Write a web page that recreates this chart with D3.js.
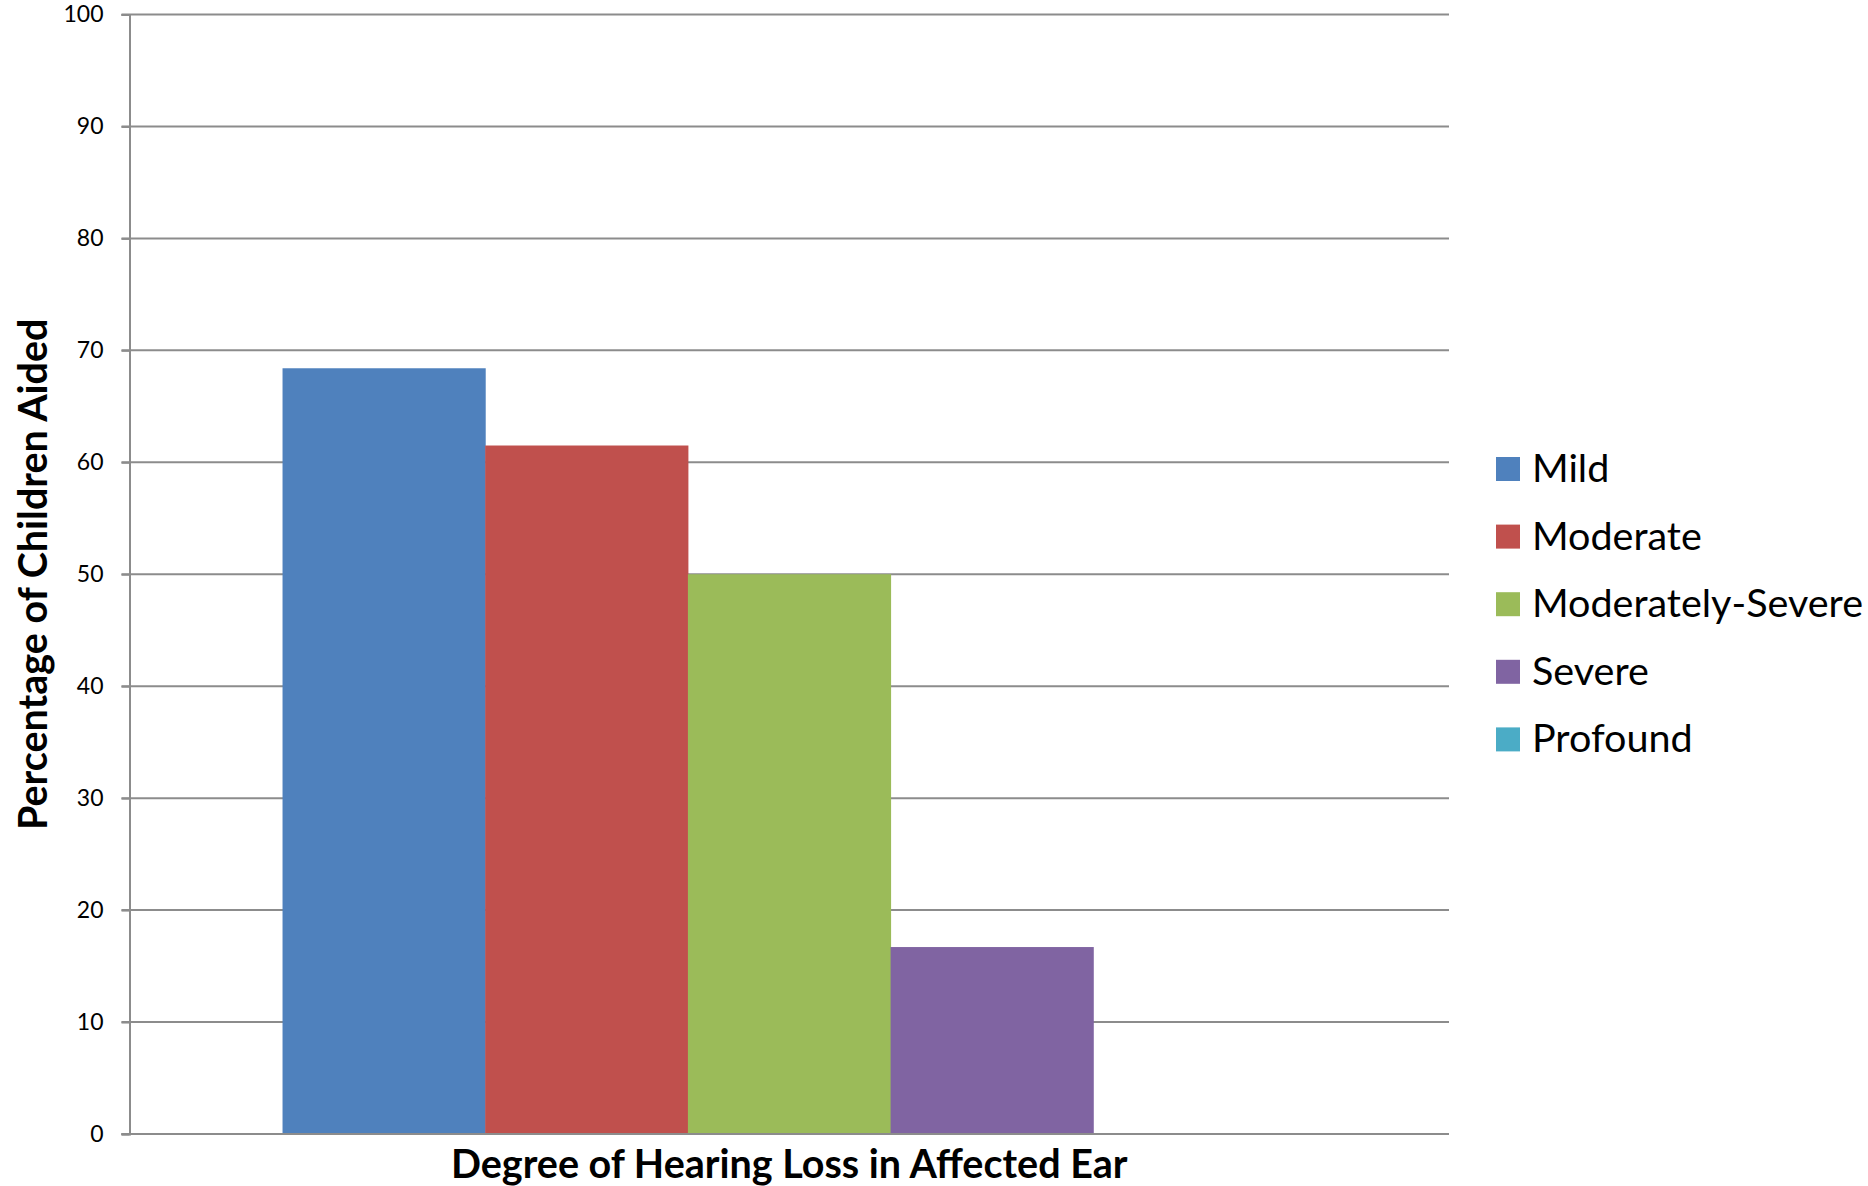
<!DOCTYPE html>
<html>
<head>
<meta charset="utf-8">
<script src="https://cdn.jsdelivr.net/npm/d3@7"></script>
<style>
  body { margin: 0; background: #fff; }
  text { font-family: Lato, "Open Sans", sans-serif; fill: #000; }
</style>
</head>
<body>
<div id="chart"></div>
<script>
// data
var categories = ["Degree of Hearing Loss in Affected Ear"];
var seriesNames = ["Mild", "Moderate", "Moderately-Severe", "Severe", "Profound"];
var seriesValues = [68.4, 61.5, 50.0, 16.7, 0];
var seriesColours = ["#4F81BD", "#C0504D", "#9BBB59", "#8064A2", "#4BACC6"];
var yTicks = [0, 10, 20, 30, 40, 50, 60, 70, 80, 90, 100];

// set the dimensions and margins of the graph
var totalWidth = 1868,
    totalHeight = 1186;
var margin = {top: 14.5, right: 419, bottom: 52, left: 129.5},
    width = totalWidth - margin.left - margin.right,
    height = totalHeight - margin.top - margin.bottom;

var svg = d3.select("#chart")
    .append("svg")
    .attr("width", totalWidth)
    .attr("height", totalHeight)
    .append("g")
    .attr("transform", "translate(" + margin.left + "," + margin.top + ")");

// scales
var y = d3.scaleLinear()
    .domain([0, 100])
    .range([height, 0]);

// one category, gap on both sides of the bar group
var x0 = d3.scaleBand()
    .domain(categories)
    .range([0, width])
    .paddingInner(0)
    .paddingOuter(0.151);

var x1 = d3.scaleBand()
    .domain(seriesNames)
    .range([0, x0.bandwidth()]);

// gridlines (with tick part extending left of the axis)
svg.append("g")
    .attr("class", "grid")
    .selectAll("line")
    .data(yTicks)
    .enter()
    .append("line")
    .attr("x1", -8)
    .attr("x2", width)
    .attr("y1", function(d) { return y(d); })
    .attr("y2", function(d) { return y(d); })
    .attr("stroke", "#8c8c8c")
    .attr("stroke-width", 2);

// y axis
var yAxis = svg.append("g")
    .call(d3.axisLeft(y).tickValues(yTicks).tickSize(8).tickPadding(18));
yAxis.select(".domain").attr("stroke", "#8c8c8c").attr("stroke-width", 2);
yAxis.selectAll(".tick line").attr("stroke", "#8c8c8c").attr("stroke-width", 2);
yAxis.selectAll(".tick text")
    .style("font-size", "23px")
    .style("font-family", "Lato, sans-serif")
    .attr("fill", "#000");

// bars
var bars = svg.append("g")
    .selectAll("rect")
    .data(seriesNames.map(function(name, i) {
        return {name: name, value: seriesValues[i], colour: seriesColours[i]};
    }))
    .enter()
    .append("rect")
    .attr("x", function(d) { return x0(categories[0]) + x1(d.name); })
    .attr("width", x1.bandwidth() + 0.5)
    .attr("y", function(d) { return y(d.value); })
    .attr("height", function(d) { return height - y(d.value); })
    .attr("fill", function(d) { return d.colour; });

// x axis line on top of bars
svg.append("line")
    .attr("x1", -8)
    .attr("x2", width)
    .attr("y1", height)
    .attr("y2", height)
    .attr("stroke", "#8c8c8c")
    .attr("stroke-width", 2);

// x axis title
svg.append("text")
    .attr("x", width / 2)
    .attr("y", height + 44)
    .attr("text-anchor", "middle")
    .style("font-size", "39.5px")
    .style("font-weight", "bold")
    .text(categories[0]);

// y axis title
svg.append("text")
    .attr("transform", "translate(" + (-margin.left + 47) + "," + (height / 2) + ") rotate(-90)")
    .attr("text-anchor", "middle")
    .style("font-size", "39.5px")
    .style("font-weight", "bold")
    .text("Percentage of Children Aided");

// legend
var legend = svg.append("g")
    .attr("class", "legend")
    .attr("transform", "translate(" + (1496 - margin.left) + "," + (457 - margin.top) + ")");

var legendItems = legend.selectAll("g")
    .data(seriesNames)
    .enter()
    .append("g")
    .attr("transform", function(d, i) { return "translate(0," + (i * 67.6) + ")"; });

legendItems.append("rect")
    .attr("width", 24)
    .attr("height", 24)
    .attr("fill", function(d, i) { return seriesColours[i]; });

legendItems.append("text")
    .attr("x", 36)
    .attr("y", 25)
    .style("font-size", "39.5px")
    .text(function(d) { return d; });
</script>
</body>
</html>
